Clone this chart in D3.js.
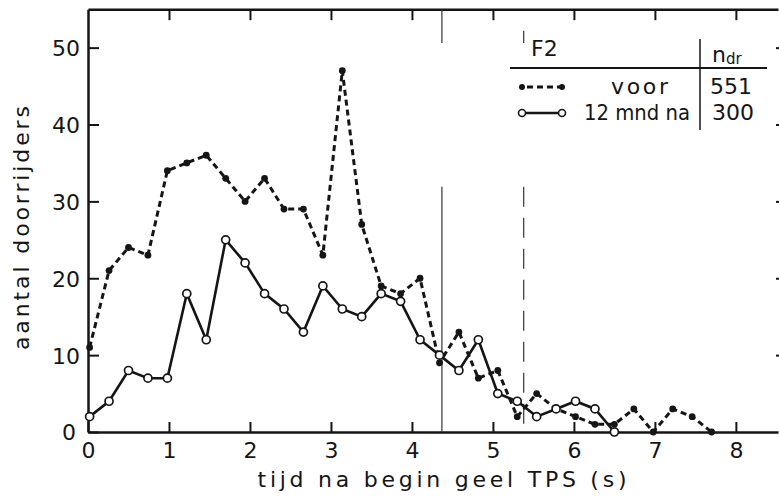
<!DOCTYPE html>
<html><head><meta charset="utf-8">
<script src="https://cdn.jsdelivr.net/npm/d3@7"></script>
<style>
body{margin:0;background:#fff}
svg{display:block}
text{font-family:"DejaVu Sans",sans-serif;fill:#151515}
</style>
</head><body><svg id="chart" width="779" height="497"></svg>
<script>
// ---- data ----
const tVoor = [0.02,0.26,0.50,0.74,0.98,1.22,1.46,1.70,1.94,2.18,2.42,2.66,2.90,3.14,3.38,3.62,3.86,4.10,4.34,4.58,4.82,5.06,5.30,5.54,5.78,6.02,6.26,6.50,6.74,6.98,7.22,7.46,7.70];
const nVoor = [11,21,24,23,34,35,36,33,30,33,29,29,23,47,27,19,18,20,9,13,7,8,2,5,3,2,1,1,3,0,3,2,0];
const tNa   = [0.02,0.26,0.50,0.74,0.98,1.22,1.46,1.70,1.94,2.18,2.42,2.66,2.90,3.14,3.38,3.62,3.86,4.10,4.34,4.58,4.82,5.06,5.30,5.54,5.78,6.02,6.26,6.50];
const nNa   = [2,4,8,7,7,18,12,25,22,18,16,13,19,16,15,18,17,12,10,8,12,5,4,2,3,4,3,0];
const xTicks = [0,1,2,3,4,5,6,7,8];
const yTicks = [0,10,20,30,40,50];
const yTicksSide = [10,20,30,40,50];
const refSolidX = 4.37;
const refDashX = 5.38;
const panelLabel = "F2";
const seriesLabels = ["voor","12 mnd na"];
const seriesCounts = ["551","300"];
const xTitle = "tijd na begin geel TPS (s)";
const yTitle = "aantal doorrijders";

// ---- layout ----
const svg = d3.select("#chart");
const x = d3.scaleLinear().domain([0, 8.52]).range([88, 778]);
const y = d3.scaleLinear().domain([0, 55]).range([432, 9.2]);
const ink = "#151515";

// axes
const gB = svg.append("g").attr("transform","translate(0,432)")
  .call(d3.axisBottom(x).tickValues(xTicks).tickSize(-10).tickSizeOuter(0).tickPadding(10).tickFormat(d3.format("d")));
const gL = svg.append("g").attr("transform","translate(88,0)")
  .call(d3.axisLeft(y).tickValues(yTicks).tickSize(-11).tickSizeOuter(0).tickPadding(8).tickFormat(d3.format("d")));
const gT = svg.append("g").attr("transform","translate(0,"+y(55)+")")
  .call(d3.axisTop(x).tickValues(xTicks.slice(1)).tickSize(-11).tickSizeOuter(0).tickFormat(""));
const gR = svg.append("g").attr("transform","translate(787,0)")
  .call(d3.axisRight(y).tickValues(yTicksSide).tickSize(-11).tickSizeOuter(0).tickFormat(""));
[gB,gL,gT,gR].forEach(g=>{
  g.select(".domain").attr("stroke",ink).attr("stroke-width",2.5);
  g.selectAll(".tick line").attr("stroke",ink).attr("stroke-width",2);
  g.selectAll(".tick text").attr("fill",ink).style("font-size","22px").style("font-family","'DejaVu Sans',sans-serif");
});
gR.select(".domain").remove();
gL.selectAll(".tick text").attr("dy","0.36em");
gL.selectAll(".tick").filter(d=>d===0).select("text").attr("x",-12);

// axis titles
svg.append("text").attr("x",442).attr("y",487).attr("text-anchor","middle")
  .attr("textLength",369).attr("lengthAdjust","spacing")
  .style("font-size","22px").text(xTitle);
svg.append("text").attr("transform","translate(29,228) rotate(-90)").attr("text-anchor","middle")
  .attr("textLength",244).attr("lengthAdjust","spacing")
  .style("font-size","22px").text(yTitle);

// reference vertical lines
const refG = svg.append("g");
refG.append("line").attr("x1",x(refSolidX)).attr("x2",x(refSolidX)).attr("y1",y(55)).attr("y2",y(50.6))
  .attr("stroke","#333").attr("stroke-width",1.2);
refG.append("line").attr("x1",x(refSolidX)).attr("x2",x(refSolidX)).attr("y1",y(31.9)).attr("y2",y(0))
  .attr("stroke","#333").attr("stroke-width",1.2);
refG.append("line").attr("x1",x(refDashX)).attr("x2",x(refDashX)).attr("y1",y(52.2)).attr("y2",y(50.6))
  .attr("stroke","#333").attr("stroke-width",1.2);
refG.append("line").attr("x1",x(refDashX)).attr("x2",x(refDashX)).attr("y1",y(31.9)).attr("y2",y(0))
  .attr("stroke","#333").attr("stroke-width",1.2).attr("stroke-dasharray","20,11");

// series
const dVoor = tVoor.map((t,i)=>[t,nVoor[i]]);
const dNa = tNa.map((t,i)=>[t,nNa[i]]);
const line = d3.line().x(d=>x(d[0])).y(d=>y(d[1]));
svg.append("path").datum(dVoor).attr("d",line).attr("fill","none")
  .attr("stroke",ink).attr("stroke-width",3).attr("stroke-dasharray","6,4");
svg.append("path").datum(dNa).attr("d",line).attr("fill","none")
  .attr("stroke",ink).attr("stroke-width",2.6);
svg.append("g").selectAll("circle").data(dVoor).join("circle")
  .attr("cx",d=>x(d[0])).attr("cy",d=>y(d[1])).attr("r",3.4).attr("fill",ink);
svg.append("g").selectAll("circle").data(dNa).join("circle")
  .attr("cx",d=>x(d[0])).attr("cy",d=>y(d[1])).attr("r",4).attr("fill","#fff")
  .attr("stroke",ink).attr("stroke-width",1.7);

// legend table
const lg = svg.append("g");
lg.append("line").attr("x1",510).attr("x2",767).attr("y1",68).attr("y2",68).attr("stroke",ink).attr("stroke-width",2);
lg.append("line").attr("x1",700).attr("x2",700).attr("y1",39).attr("y2",130).attr("stroke",ink).attr("stroke-width",1.5);
lg.append("text").attr("x",531).attr("y",56).style("font-size","22px").text(panelLabel);
const nd = lg.append("text").attr("x",712).attr("y",62).style("font-size","22px");
nd.append("tspan").text("n");
nd.append("tspan").attr("dy",2).style("font-size","15px").text("dr");
lg.append("text").attr("x",611).attr("y",94).attr("textLength",57).attr("lengthAdjust","spacing").style("font-size","22px").text(seriesLabels[0]);
lg.append("text").attr("x",584).attr("y",120).attr("textLength",106).attr("lengthAdjust","spacingAndGlyphs").style("font-size","22px").text(seriesLabels[1]);
lg.append("text").attr("x",710).attr("y",94).style("font-size","22px").text(seriesCounts[0]);
lg.append("text").attr("x",712).attr("y",120).style("font-size","22px").text(seriesCounts[1]);
// legend markers
lg.append("line").attr("x1",522).attr("x2",562).attr("y1",87).attr("y2",87).attr("stroke",ink).attr("stroke-width",3).attr("stroke-dasharray","6,4").attr("stroke-dashoffset",-5);
lg.selectAll("circle.v").data([522,562]).join("circle").attr("class","v").attr("cx",d=>d).attr("cy",87).attr("r",3).attr("fill",ink);
lg.append("line").attr("x1",522).attr("x2",562).attr("y1",113).attr("y2",113).attr("stroke",ink).attr("stroke-width",2.5);
lg.selectAll("circle.n").data([522,562]).join("circle").attr("class","n").attr("cx",d=>d).attr("cy",113).attr("r",3.5).attr("fill","#fff").attr("stroke",ink).attr("stroke-width",1.6);
</script>
</body></html>
